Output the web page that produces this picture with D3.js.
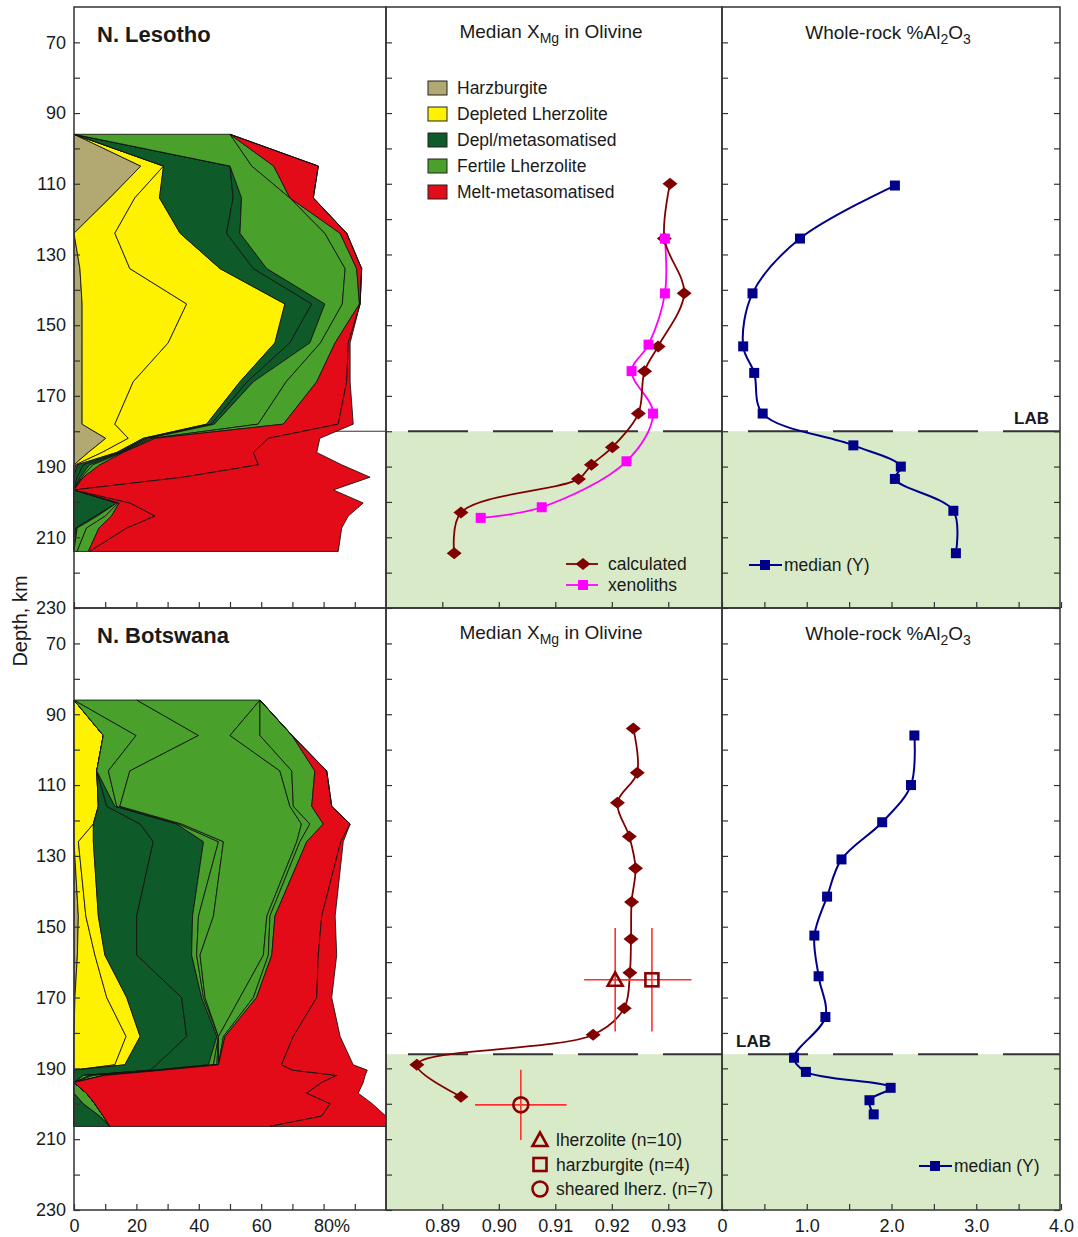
<!DOCTYPE html>
<html>
<head>
<meta charset="utf-8">
<script src="https://cdn.jsdelivr.net/npm/d3@7"></script>
<style>
  body { margin: 0; background: #fff; }
  svg text { font-family: "Liberation Sans", Arial, sans-serif; fill: #1a1a1a; }
</style>
</head>
<body>
<div id="chart"></div>
<script>
// Lithosphere profiles: rock-type proportions, olivine XMg and whole-rock Al2O3 vs depth

// ---- composition legend ----
const compNames = ["Harzburgite", "Depleted Lherzolite", "Depl/metasomatised", "Fertile Lherzolite", "Melt-metasomatised"];
const compColors = ["#b1a872", "#fff200", "#0f5a29", "#49a12b", "#e30b17"];

// ---- N. Lesotho, % of each rock type per depth slice (stacked left to right) ----
const lesDepths = [96, 105, 114, 124, 134, 144, 155, 166, 178, 182, 186, 189.5, 193, 196.6, 200.3, 204, 207.4, 214];
const lesHarz  = [0, 21.4, 11.5, 0, 1.9, 2.6, 2.6, 2.6, 2.6, 10.2, 4.6, 0, 0, 0, 0, 0, 0, 0];
const lesDeplA = [0, 7.3, 8, 13.1, 16, 33.5, 27.6, 16.4, 10.5, 7.2, 4.4, 0.5, 0, 0, 0, 0, 0, 0];
const lesDeplB = [0, 0, 7.9, 20.9, 28.9, 31.5, 34.2, 34.2, 29.4, 4.8, 4.7, 0.5, 0, 0, 0, 0, 0, 0];
const lesDgA   = [0, 21.3, 23.6, 14.9, 10.7, 8.6, 4.8, 2.3, 1.5, 0.8, 0.8, 2, 1, 0, 13.7, 6.8, 0.5, 0];
const lesDgB   = [0, 0, 2.7, 4.3, 4.3, 4.2, 6.4, 2, 1, 1, 0.5, 2, 1, 0, 0, 0.7, 0.5, 0];
const lesFertA = [50, 7, 15.5, 27.2, 25.1, 5.6, 3.4, 10.5, 14, 1, 0.5, 1, 0.5, 0, 0.5, 2.5, 3, 1];
const lesFertB = [0, 7, 0, 4.9, 3.7, 5.5, 4.7, 9.8, 8.1, 1, 0.3, 2.3, 0.5, 0, 0.3, 2, 4, 3.6];
const lesMeltA = [0, 14.3, 7.5, 2.1, 1.6, 0.2, 4.2, 9.6, 17.6, 36.3, 41.7, 50.8, 32, 0, 3.5, 14, 8.9, 0.4];
const lesMeltB = [0, 0, 0, 0, 0, 0, 0.6, 1.1, 4.8, 16.5, 20.3, 26.7, 59.9, 83.1, 74.7, 61.9, 68.9, 79.7];

// ---- N. Botswana ----
const botDepths = [86, 96, 106, 116, 121, 126, 147, 158, 170, 181, 189, 190.5, 192, 194, 197, 200, 203.5, 206.4];
const botHarz  = [0, 0, 0, 0, 0, 0, 1.4, 1.1, 0.3, 0, 0, 0, 0, 0, 0, 0, 0, 0];
const botDeplA = [0, 9.4, 7.3, 7.8, 6.2, 1.4, 2.4, 5.6, 10.2, 16.7, 13.1, 0, 0, 0, 0, 0, 0, 0];
const botDeplB = [0, 0, 0, 0, 0, 4.8, 4, 3.2, 6.4, 4.5, 3.2, 0, 0, 0, 0, 0, 0, 0];
const botDgA   = [0, 0, 0, 2.7, 15, 19.2, 12.3, 10.2, 17.6, 14.9, 10.2, 24.4, 3, 0, 0, 3, 8.3, 11.5];
const botDgB   = [0, 0, 0, 2.6, 11.7, 16.1, 17.9, 17.6, 6.4, 9.7, 16.6, 1.6, 0, 0, 0, 0, 0, 0];
const botFertA = [0, 10.5, 3.7, 0.6, 0.6, 4.8, 1.9, 1.6, 0.6, 0.5, 1.6, 1, 2, 0, 4, 3.7, 1.1, 0];
const botFertB = [20.1, 20, 6.9, 1, 1, 1.6, 4.8, 1.1, 0.5, 0, 1.1, 1, 1, 0, 0, 0, 0, 0];
const botFertC = [39.5, 10.1, 48.1, 54.5, 38.4, 23.5, 17.1, 20.3, 11.2, 0, 0.5, 0.8, 3.6, 0, 0, 0, 0, 0];
const botFertD = [0, 9.6, 3.8, 1.1, 2.7, 1, 1, 1.6, 4.3, 1.6, 0, 0, 0, 0, 0, 0, 0, 0];
const botFertE = [0, 10.3, 7.4, 5.9, 4.3, 2.2, 1.6, 1.1, 1, 0.5, 0, 0, 0, 0, 0, 0, 0, 0];
const botMeltA = [0, 0, 3.8, 6.4, 8.6, 10.9, 15, 14.9, 19.3, 21.9, 20.2, 41.2, 74.6, 79.4, 70.6, 75.4, 70, 51.3];
const botMeltB = [0, 0, 0, 0, 0, 0.8, 4.3, 5.9, 4.8, 15, 23, 24, 9.1, 13.3, 16.5, 13.5, 20.6, 37.2];

// ---- olivine XMg ----
const lesCalcDepths = [110, 125.5, 141, 156, 163, 175, 184.5, 189.5, 193.5, 203, 214.5];
const lesCalcXmg = [0.9303, 0.9293, 0.9328, 0.9282, 0.9258, 0.9247, 0.9201, 0.9164, 0.9141, 0.8933, 0.8921];
const lesXenoDepths = [125.5, 141, 155.5, 163, 175, 188.5, 201.5, 204.5];
const lesXenoXmg = [0.9294, 0.9294, 0.9265, 0.9235, 0.9273, 0.9226, 0.9076, 0.8968];
const botCalcDepths = [94, 106.5, 115, 124.5, 133.5, 143, 153.5, 163, 173, 180.5, 189, 198];
const botCalcXmg = [0.9238, 0.9245, 0.9210, 0.9231, 0.9242, 0.9235, 0.9234, 0.9232, 0.9222, 0.9167, 0.8855, 0.8933];

// Botswana xenolith groups (mean +/- error)
const botGroups = ["lherzolite (n=10)", "harzburgite (n=4)", "sheared lherz. (n=7)"];
const botGroupShape = ["triangle", "square", "circle"];
const botGroupXmg = [0.9206, 0.9271, 0.9039];
const botGroupXmgErr = [0.0055, 0.0070, 0.0081];
const botGroupDepth = [165, 165, 200.3];
const botGroupDepthErr = [14.6, 14.6, 9.9];

// ---- whole-rock Al2O3 medians ----
const lesAlDepths = [110.5, 125.5, 141, 156, 163.5, 175, 184, 190, 193.5, 202.5, 214.5];
const lesAl = [2.04, 0.92, 0.36, 0.25, 0.38, 0.48, 1.55, 2.11, 2.04, 2.73, 2.76];
const botAlDepths = [96, 110, 120.5, 131, 141.5, 152.5, 164, 175.5, 187, 191, 195.5, 199, 203];
const botAl = [2.27, 2.23, 1.89, 1.41, 1.24, 1.09, 1.14, 1.22, 0.85, 0.99, 1.99, 1.74, 1.79];

// LAB depths
const lesLAB = 180, botLAB = 186;

// ---- layout ----
const W = 1078, H = 1237;
const edges = [74, 386, 722, 1060];

const svg = d3.select("#chart").append("svg")
    .attr("width", W)
    .attr("height", H);

const xComp = d3.scaleLinear().domain([0, 100]).range([74, 386]);
const xMg = d3.scaleLinear().domain([0.89, 0.93]).range([442.3, 668.3]);
const xAl = d3.scaleLinear().domain([0, 4]).range([722, 1061]);
const yTop = d3.scaleLinear().domain([60, 230]).range([7, 608]);
const yBot = d3.scaleLinear().domain([60, 230]).range([608, 1210]);

const yTicks = d3.range(70, 231, 10);

function colorOf(k) {
    if (k === "harz") return compColors[0];
    if (k.startsWith("depl")) return compColors[1];
    if (k.startsWith("dg")) return compColors[2];
    if (k.startsWith("fert")) return compColors[3];
    return compColors[4];
}

function styleAxis(g) {
    g.select(".domain").remove();
    g.selectAll(".tick line").attr("stroke", "#333").attr("stroke-width", 1.2);
    g.selectAll(".tick text").attr("font-size", 18).attr("fill", "#1a1a1a")
        .style("font-family", "'Liberation Sans', Arial, sans-serif");
}

const diamondPath = "M-7.5,0L0,-6L7.5,0L0,6Z";

function drawRow(y, c) {
    const top = y(60), bottom = y(230);

    // LAB shading in the XMg and Al2O3 panels
    svg.append("rect")
        .attr("x", edges[1]).attr("y", y(c.lab))
        .attr("width", edges[3] - edges[1]).attr("height", bottom - y(c.lab))
        .attr("fill", "#d9eac8");

    if (c.labLeft) {
        svg.append("line")
            .attr("x1", edges[0]).attr("x2", edges[1])
            .attr("y1", y(c.lab)).attr("y2", y(c.lab))
            .attr("stroke", "#333").attr("stroke-width", 1);
    }

    // stacked composition areas
    const rows = c.depths.map((d, i) => {
        const r = {depth: d};
        c.keys.forEach(k => r[k] = c.series[k][i]);
        return r;
    });
    const stacked = d3.stack().keys(c.keys)(rows);
    const area = d3.area()
        .y(d => y(d.data.depth))
        .x0(d => xComp(d[0]))
        .x1(d => xComp(d[1]));
    svg.append("g").selectAll("path")
        .data(stacked)
        .join("path")
        .attr("d", area)
        .attr("fill", s => colorOf(s.key))
        .attr("stroke", "#111")
        .attr("stroke-width", 0.85)
        .attr("stroke-linejoin", "round");

    // LAB dashed line
    svg.append("line")
        .attr("x1", edges[1]).attr("x2", edges[3])
        .attr("y1", y(c.lab)).attr("y2", y(c.lab))
        .attr("stroke", "#333").attr("stroke-width", 2)
        .attr("stroke-dasharray", "60,25").attr("stroke-dashoffset", 63);

    // panel frames
    for (let i = 0; i < 3; i++) {
        svg.append("rect")
            .attr("x", edges[i]).attr("y", top)
            .attr("width", edges[i + 1] - edges[i]).attr("height", bottom - top)
            .attr("fill", "none").attr("stroke", "#333").attr("stroke-width", 1.5);
    }

    // y axes (inward ticks)
    svg.append("g").attr("transform", `translate(${edges[0]},0)`)
        .call(d3.axisLeft(y).tickValues(yTicks).tickSize(-6).tickPadding(8)
            .tickFormat(d => (d - 70) % 20 === 0 ? d : ""))
        .call(styleAxis);
    svg.append("g").attr("transform", `translate(${edges[1]},0)`)
        .call(d3.axisLeft(y).tickValues(yTicks).tickSize(-6).tickFormat(""))
        .call(styleAxis);
    svg.append("g").attr("transform", `translate(${edges[2]},0)`)
        .call(d3.axisLeft(y).tickValues(yTicks).tickSize(-6).tickFormat(""))
        .call(styleAxis);
    svg.append("g").attr("transform", `translate(${edges[3]},0)`)
        .call(d3.axisRight(y).tickValues(yTicks).tickSize(-6).tickFormat(""))
        .call(styleAxis);

    // x axes (inward ticks, labels on the lower row only)
    const lab = c.xLabels;
    const gc = svg.append("g").attr("transform", `translate(0,${bottom})`)
        .call(d3.axisBottom(xComp).tickValues(d3.range(0, 100, 10)).tickSize(-6).tickPadding(9)
            .tickFormat(d => !lab ? "" : d % 20 === 0 ? (d === 80 ? "80%" : d) : ""))
        .call(styleAxis);
    gc.selectAll(".tick text").filter(d => d === 80).attr("text-anchor", "start").attr("x", -10);

    svg.append("g").attr("transform", `translate(0,${bottom})`)
        .call(d3.axisBottom(xMg).tickValues([0.89, 0.90, 0.91, 0.92, 0.93]).tickSize(-6).tickPadding(9)
            .tickFormat(d => lab ? d3.format(".2f")(d) : ""))
        .call(styleAxis);

    svg.append("g").attr("transform", `translate(0,${bottom})`)
        .call(d3.axisBottom(xAl).tickValues(d3.range(0, 4.01, 0.5)).tickSize(-6).tickPadding(9)
            .tickFormat(d => !lab ? "" : Number.isInteger(d) ? (d === 0 ? "0" : d.toFixed(1)) : ""))
        .call(styleAxis);

    // titles
    svg.append("text").attr("x", 97).attr("y", top + 35)
        .attr("font-size", 22).attr("font-weight", "bold").text(c.name);

    const t1 = svg.append("text").attr("x", 551).attr("y", top + 31)
        .attr("text-anchor", "middle").attr("font-size", 19);
    t1.append("tspan").text("Median X");
    t1.append("tspan").attr("dy", 5).attr("font-size", 14).text("Mg");
    t1.append("tspan").attr("dy", -5).text(" in Olivine");

    const t2 = svg.append("text").attr("x", 888).attr("y", top + 32)
        .attr("text-anchor", "middle").attr("font-size", 19);
    t2.append("tspan").text("Whole-rock %Al");
    t2.append("tspan").attr("dy", 5).attr("font-size", 14).text("2");
    t2.append("tspan").attr("dy", -5).text("O");
    t2.append("tspan").attr("dy", 5).attr("font-size", 14).text("3");

    // LAB label
    svg.append("text")
        .attr("x", c.labX).attr("y", y(c.lab) - 7)
        .attr("text-anchor", c.labAnchor)
        .attr("font-size", 17).attr("font-weight", "bold").text("LAB");

    // XMg calculated curve
    const line = d3.line()
        .x(d => xMg(d[1]))
        .y(d => y(d[0]))
        .curve(d3.curveCatmullRom.alpha(0.5));
    const calc = d3.zip(c.calcDepths, c.calcXmg);
    if (c.xenoDepths) {
        const xeno = d3.zip(c.xenoDepths, c.xenoXmg);
        svg.append("path").datum(xeno).attr("d", line)
            .attr("fill", "none").attr("stroke", "#ff00ff").attr("stroke-width", 1.8);
    }
    svg.append("path").datum(calc).attr("d", line)
        .attr("fill", "none").attr("stroke", "#800000").attr("stroke-width", 1.8);
    svg.append("g").selectAll("path").data(calc).join("path")
        .attr("transform", d => `translate(${xMg(d[1])},${y(d[0])})`)
        .attr("d", diamondPath).attr("fill", "#800000");
    if (c.xenoDepths) {
        const xeno = d3.zip(c.xenoDepths, c.xenoXmg);
        svg.append("g").selectAll("rect").data(xeno).join("rect")
            .attr("x", d => xMg(d[1]) - 5).attr("y", d => y(d[0]) - 5)
            .attr("width", 10).attr("height", 10).attr("fill", "#ff00ff");
    }

    // Al2O3 median curve
    const alLine = d3.line()
        .x(d => xAl(d[1]))
        .y(d => y(d[0]))
        .curve(d3.curveCatmullRom.alpha(0.5));
    const al = d3.zip(c.alDepths, c.al);
    svg.append("path").datum(al).attr("d", alLine)
        .attr("fill", "none").attr("stroke", "#00008b").attr("stroke-width", 2);
    svg.append("g").selectAll("rect").data(al).join("rect")
        .attr("x", d => xAl(d[1]) - 5).attr("y", d => y(d[0]) - 5)
        .attr("width", 10).attr("height", 10).attr("fill", "#00008b");

    // median legend
    const my = c.medianLegend[1], mx = c.medianLegend[0];
    svg.append("line").attr("x1", mx).attr("x2", mx + 33).attr("y1", my).attr("y2", my)
        .attr("stroke", "#00008b").attr("stroke-width", 2);
    svg.append("rect").attr("x", mx + 11).attr("y", my - 5).attr("width", 10).attr("height", 10)
        .attr("fill", "#00008b");
    svg.append("text").attr("x", mx + 35).attr("y", my + 6).attr("font-size", 17.5).text("median (Y)");
}

// open symbol for the Botswana xenolith groups
function groupSymbol(g, shape, cx, cy) {
    const st = {fill: "none", stroke: "#8b0000", "stroke-width": 2.6};
    let el;
    if (shape === "triangle") {
        el = g.append("path").attr("d", `M${cx},${cy - 7.5}L${cx + 7.5},${cy + 6}L${cx - 7.5},${cy + 6}Z`);
    } else if (shape === "square") {
        el = g.append("rect").attr("x", cx - 6.5).attr("y", cy - 6.5).attr("width", 13).attr("height", 13);
    } else {
        el = g.append("circle").attr("cx", cx).attr("cy", cy).attr("r", 7.5);
    }
    Object.entries(st).forEach(([k, v]) => el.attr(k, v));
}

drawRow(yTop, {
    name: "N. Lesotho",
    depths: lesDepths,
    keys: ["harz", "deplA", "deplB", "dgA", "dgB", "fertA", "fertB", "meltA", "meltB"],
    series: {harz: lesHarz, deplA: lesDeplA, deplB: lesDeplB, dgA: lesDgA, dgB: lesDgB,
             fertA: lesFertA, fertB: lesFertB, meltA: lesMeltA, meltB: lesMeltB},
    lab: lesLAB, labLeft: true, labX: 1049, labAnchor: "end",
    calcDepths: lesCalcDepths, calcXmg: lesCalcXmg,
    xenoDepths: lesXenoDepths, xenoXmg: lesXenoXmg,
    alDepths: lesAlDepths, al: lesAl,
    medianLegend: [749, 565],
    xLabels: false
});

drawRow(yBot, {
    name: "N. Botswana",
    depths: botDepths,
    keys: ["harz", "deplA", "deplB", "dgA", "dgB", "fertA", "fertB", "fertC", "fertD", "fertE", "meltA", "meltB"],
    series: {harz: botHarz, deplA: botDeplA, deplB: botDeplB, dgA: botDgA, dgB: botDgB,
             fertA: botFertA, fertB: botFertB, fertC: botFertC, fertD: botFertD, fertE: botFertE,
             meltA: botMeltA, meltB: botMeltB},
    lab: botLAB, labLeft: false, labX: 736, labAnchor: "start",
    calcDepths: botCalcDepths, calcXmg: botCalcXmg,
    alDepths: botAlDepths, al: botAl,
    medianLegend: [919, 1166],
    xLabels: true
});

// Botswana xenolith groups with error bars
const gGroups = svg.append("g");
botGroups.forEach((name, i) => {
    const cx = xMg(botGroupXmg[i]), cy = yBot(botGroupDepth[i]);
    gGroups.append("line")
        .attr("x1", xMg(botGroupXmg[i] - botGroupXmgErr[i])).attr("x2", xMg(botGroupXmg[i] + botGroupXmgErr[i]))
        .attr("y1", cy).attr("y2", cy)
        .attr("stroke", "#ff3030").attr("stroke-width", 1.6);
    gGroups.append("line")
        .attr("x1", cx).attr("x2", cx)
        .attr("y1", yBot(botGroupDepth[i] - botGroupDepthErr[i])).attr("y2", yBot(botGroupDepth[i] + botGroupDepthErr[i]))
        .attr("stroke", "#ff3030").attr("stroke-width", 1.6);
});
botGroups.forEach((name, i) => {
    groupSymbol(gGroups, botGroupShape[i], xMg(botGroupXmg[i]), yBot(botGroupDepth[i]));
    // legend
    const ly = 1140 + i * 24.5;
    groupSymbol(gGroups, botGroupShape[i], 540, ly);
    gGroups.append("text").attr("x", 556).attr("y", ly + 6).attr("font-size", 17.5).text(name);
});

// composition legend (top middle panel)
const gLeg = svg.append("g");
compNames.forEach((name, i) => {
    const cy = 88 + i * 26;
    gLeg.append("rect").attr("x", 428).attr("y", cy - 7).attr("width", 19).attr("height", 14)
        .attr("fill", compColors[i]).attr("stroke", "#222").attr("stroke-width", 1);
    gLeg.append("text").attr("x", 457).attr("y", cy + 6).attr("font-size", 17.5).text(name);
});

// calculated / xenoliths legend (top middle panel)
const gLeg2 = svg.append("g");
gLeg2.append("line").attr("x1", 566).attr("x2", 598).attr("y1", 564).attr("y2", 564)
    .attr("stroke", "#800000").attr("stroke-width", 1.8);
gLeg2.append("path").attr("transform", "translate(583,564)").attr("d", diamondPath).attr("fill", "#800000");
gLeg2.append("text").attr("x", 608).attr("y", 570).attr("font-size", 17.5).text("calculated");
gLeg2.append("line").attr("x1", 566).attr("x2", 598).attr("y1", 585).attr("y2", 585)
    .attr("stroke", "#ff00ff").attr("stroke-width", 1.8);
gLeg2.append("rect").attr("x", 578).attr("y", 580).attr("width", 10).attr("height", 10).attr("fill", "#ff00ff");
gLeg2.append("text").attr("x", 608).attr("y", 591).attr("font-size", 17.5).text("xenoliths");

// shared y-axis title
svg.append("text")
    .attr("transform", "translate(27,621) rotate(-90)")
    .attr("text-anchor", "middle")
    .attr("font-size", 20)
    .text("Depth, km");
</script>
</body>
</html>
